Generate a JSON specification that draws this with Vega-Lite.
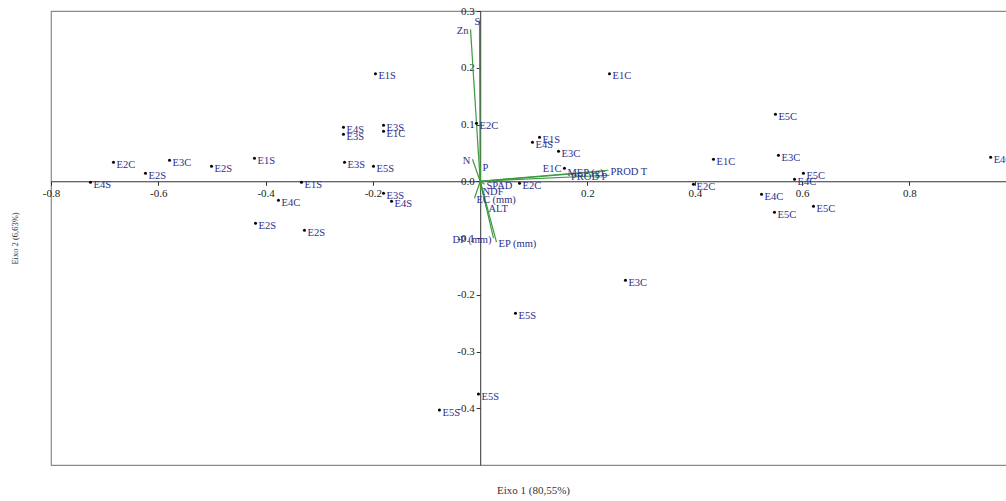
{
  "$schema": "https://vega.github.io/schema/vega-lite/v6.json",
  "autosize": "none",
  "padding": {"left": 51, "top": 11, "right": 0, "bottom": 36},
  "width": 956,
  "height": 454,
  "background": "white",
  "config": {"view": {"stroke": "#8a8a8a", "strokeWidth": 1.2}, "font": "Liberation Serif"},
  "datasets": {
    "scores": [
      {"id": 1, "label": "E4S", "x": -0.7264, "y": -0.0018},
      {"id": 2, "label": "E2C", "x": -0.6835, "y": 0.0335},
      {"id": 3, "label": "E2S", "x": -0.6239, "y": 0.0141},
      {"id": 4, "label": "E3C", "x": -0.5791, "y": 0.037},
      {"id": 5, "label": "E2S", "x": -0.5008, "y": 0.0264},
      {"id": 6, "label": "E1S", "x": -0.4207, "y": 0.0405},
      {"id": 7, "label": "E4C", "x": -0.376, "y": -0.0335},
      {"id": 8, "label": "E1S", "x": -0.3331, "y": -0.0018},
      {"id": 9, "label": "E2S", "x": -0.4188, "y": -0.0739},
      {"id": 10, "label": "E2S", "x": -0.3275, "y": -0.0863},
      {"id": 11, "label": "E1S", "x": -0.1952, "y": 0.1895},
      {"id": 12, "label": "E4S", "x": -0.2548, "y": 0.0951},
      {"id": 13, "label": "E3S", "x": -0.2548, "y": 0.0827},
      {"id": 14, "label": "E3S", "x": -0.1802, "y": 0.0986},
      {"id": 15, "label": "E1C", "x": -0.1802, "y": 0.088},
      {"id": 16, "label": "E3S", "x": -0.2529, "y": 0.0335},
      {"id": 17, "label": "E5S", "x": -0.1989, "y": 0.0264},
      {"id": 18, "label": "E3S", "x": -0.1802, "y": -0.0211},
      {"id": 19, "label": "E4S", "x": -0.1653, "y": -0.0352},
      {"id": 20, "label": "E2C", "x": -0.0069, "y": 0.1021},
      {"id": 21, "label": "E1S", "x": 0.1106, "y": 0.0775},
      {"id": 22, "label": "E4S", "x": 0.0975, "y": 0.0687},
      {"id": 23, "label": "E3C", "x": 0.146, "y": 0.0528},
      {"id": 24, "label": "E1C", "x": 0.1571, "y": 0.0229},
      {"id": 25, "label": "E2C", "x": 0.0733, "y": -0.0035},
      {"id": 26, "label": "E1C", "x": 0.241, "y": 0.1895},
      {"id": 27, "label": "E3C", "x": 0.2708, "y": -0.1746},
      {"id": 28, "label": "E5S", "x": 0.0658, "y": -0.2327},
      {"id": 29, "label": "E5S", "x": -0.0032, "y": -0.375},
      {"id": 30, "label": "E5S", "x": -0.0759, "y": -0.4032},
      {"id": 31, "label": "E2C", "x": 0.3976, "y": -0.0053},
      {"id": 32, "label": "E1C", "x": 0.4349, "y": 0.0387},
      {"id": 33, "label": "E5C", "x": 0.5504, "y": 0.118},
      {"id": 34, "label": "E3C", "x": 0.556, "y": 0.0458},
      {"id": 35, "label": "E5C", "x": 0.6026, "y": 0.0141},
      {"id": 36, "label": "E4C", "x": 0.5859, "y": 0.0035},
      {"id": 37, "label": "E4C", "x": 0.5244, "y": -0.0229},
      {"id": 38, "label": "E5C", "x": 0.5486, "y": -0.0546},
      {"id": 39, "label": "E5C", "x": 0.6213, "y": -0.044},
      {"id": 40, "label": "E4C", "x": 0.9515, "y": 0.0423}
    ],
    "loadings": [
      {"name": "PROD T", "x": 0.239, "y": 0.0194},
      {"name": "MEP (g)", "x": 0.2336, "y": 0.0176},
      {"name": "PROD P", "x": 0.241, "y": 0.0106},
      {"name": "S", "x": -0.0013, "y": 0.2835},
      {"name": "Zn", "x": -0.018, "y": 0.2676},
      {"name": "N", "x": -0.0144, "y": 0.0387},
      {"name": "P", "x": 0.0006, "y": 0.0264},
      {"name": "SPAD", "x": 0.008, "y": -0.0053},
      {"name": "NDF", "x": 0.0006, "y": -0.0158},
      {"name": "EC (mm)", "x": -0.0106, "y": -0.0299},
      {"name": "ALT", "x": 0.0117, "y": -0.0458},
      {"name": "EP (mm)", "x": 0.0304, "y": -0.1074},
      {"name": "DP (mm)", "x": 0.0248, "y": -0.1004}
    ]
  },
  "encoding": {
    "x": {"field": "x", "type": "quantitative",
      "scale": {"domain": [-0.8, 0.982], "nice": false, "zero": false},
      "axis": {"orient": "bottom", "offset": -283.75,
        "values": [-0.8, -0.6, -0.4, -0.2, 0.2, 0.4, 0.6, 0.8],
        "labelExpr": "replace(format(datum.value, '.1f'), '\u2212', '-')",
        "grid": false, "domainColor": "#333", "tickColor": "#333", "tickSize": 4, "labelColor": "#222",
        "labelFont": "Liberation Serif", "labelFontSize": 11, "labelPadding": 2,
        "labelFlush": false, "labelOverlap": false, "labelBound": false,
        "title": "Eixo 1 (80,55%)", "titleFont": "Liberation Serif", "titleFontSize": 11,
        "titleFontWeight": "normal", "titleColor": "#333", "titleX": 482, "titleY": 303, "titleBaseline": "top"}},
    "y": {"field": "y", "type": "quantitative",
      "scale": {"domain": [-0.5, 0.3], "nice": false, "zero": false},
      "axis": {"orient": "left", "offset": -429.2,
        "values": [-0.4, -0.3, -0.2, -0.1, 0, 0.1, 0.2, 0.3],
        "labelExpr": "replace(format(datum.value, '.1f'), '\u2212', '-')",
        "grid": false, "domainColor": "#333", "tickColor": "#333", "tickSize": 4, "labelColor": "#222",
        "labelFont": "Liberation Serif", "labelFontSize": 11, "labelPadding": 2,
        "labelFlush": false, "labelOverlap": false, "labelBound": false,
        "title": "Eixo 2 (6,63%)", "titleFont": "Liberation Serif", "titleFontSize": 8.5,
        "titleFontWeight": "normal", "titleColor": "#333", "titleX": -461, "titleY": 227}}
  },
  "layer": [
    {
      "data": {"name": "loadings"},
      "mark": {"type": "rule", "color": "#3f9a3f", "strokeWidth": 1.2},
      "encoding": {
        "x2": {"datum": 0},
        "y2": {"datum": 0}
      }
    },
    {
      "data": {"name": "scores"},
      "mark": {"type": "circle", "size": 9, "color": "black", "opacity": 1}
    },
    {
      "data": {"name": "scores"},
      "transform": [{"filter": "datum.id != 24"}],
      "mark": {"type": "text", "align": "left", "baseline": "middle", "dx": 3, "dy": 2.5, "font": "Liberation Serif", "fontSize": 10.5, "color": "#2e2e88", "clip": true},
      "encoding": {"text": {"field": "label"}}
    },
    {
      "data": {"name": "scores"},
      "transform": [{"filter": "datum.id == 24"}],
      "mark": {"type": "text", "align": "right", "baseline": "middle", "dx": -3, "dy": 1, "font": "Liberation Serif", "fontSize": 10.5, "color": "#2e2e88"},
      "encoding": {"text": {"field": "label"}}
    },
    {
      "data": {"name": "loadings"},
      "transform": [{"filter": "indexof(['P','SPAD','NDF','EC (mm)','ALT','EP (mm)','PROD T'], datum.name) >= 0"}],
      "mark": {"type": "text", "align": "left", "baseline": "middle", "dx": 2, "dy": 2, "font": "Liberation Serif", "fontSize": 10.5, "color": "#2e2e88"},
      "encoding": {"text": {"field": "name"}}
    },
    {
      "data": {"name": "loadings"},
      "transform": [{"filter": "indexof(['Zn','N','MEP (g)','PROD P','DP (mm)'], datum.name) >= 0"}],
      "mark": {"type": "text", "align": "right", "baseline": "middle", "dx": -2, "dy": 2, "font": "Liberation Serif", "fontSize": 10.5, "color": "#2e2e88"},
      "encoding": {"text": {"field": "name"}}
    },
    {
      "data": {"name": "loadings"},
      "transform": [{"filter": "datum.name == 'S'"}],
      "mark": {"type": "text", "align": "center", "baseline": "middle", "dx": -2, "dy": 2, "font": "Liberation Serif", "fontSize": 10.5, "color": "#2e2e88"},
      "encoding": {"text": {"field": "name"}}
    }
  ]
}
